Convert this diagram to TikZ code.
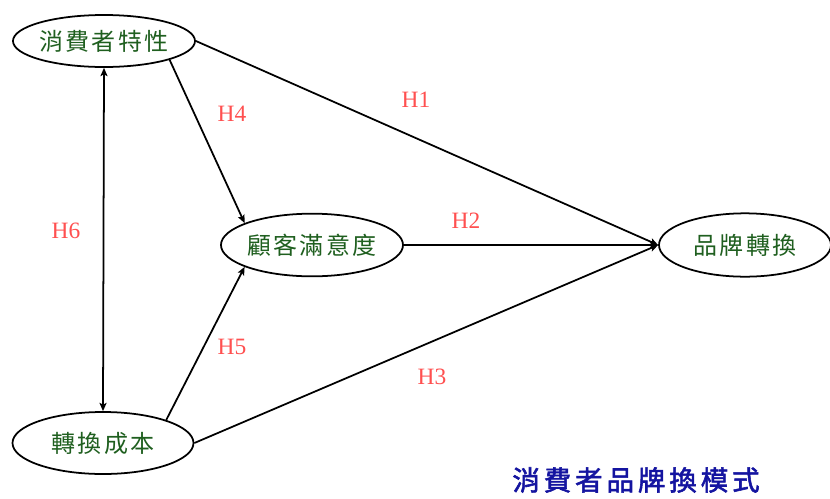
\documentclass[tikz,border=0pt]{standalone}
\usepackage{fontspec}
\setmainfont{Liberation Serif}
\newfontfamily\cjkfont{Noto Sans CJK TC}[LetterSpace=9]
\newfontfamily\titlefont{Noto Sans CJK TC}[LetterSpace=14,FakeBold=2]
\usetikzlibrary{shapes.geometric,arrows.meta}
\definecolor{nodegreen}{HTML}{1F5F1F}
\definecolor{hypred}{HTML}{FF5050}
\definecolor{titleblue}{HTML}{1414A0}
\tikzset{
  factor/.style = {ellipse, draw, line width=1.5pt, inner sep=0pt,
    minimum width=5.46cm, text=nodegreen,
    font=\cjkfont\fontsize{20.5}{20.5}\selectfont},
  link/.style = {-{Stealth[length=7pt,width=6pt,inset=1.5pt]}, line width=1.5pt},
  twolink/.style = {{Stealth[length=7pt,width=6pt,inset=1.5pt]}-{Stealth[length=7pt,width=6pt,inset=1.5pt]}, line width=1.5pt},
  hyp/.style = {text=hypred, font=\fontsize{20}{20}\selectfont}
         }

\begin{document}
\begin{tikzpicture}[x=0.03cm,y=-0.03cm]
    \useasboundingbox (0,0) rectangle (830,499);
    % The four factors
    \node[factor,minimum height=1.56cm] (consumer) at (104,41) {消費者特性};
    \node[factor,minimum height=1.88cm,minimum width=5.37cm] (satisfy) at (312,245) {顧客滿意度};
    \node[factor,minimum height=1.9cm,minimum width=5.16cm] (switch) at (745,245) {品牌轉換};
    \node[factor,minimum height=1.86cm,minimum width=5.43cm] (cost) at (103,443) {轉換成本};
    % Paths into brand switching
    \draw[link] (consumer.east) -- (switch.west);
    \draw[link] (satisfy.east) -- (switch.west);
    \draw[link] (cost.east) -- (switch.west);
    % Paths into satisfaction
    \draw[link] (consumer.-16) -- (satisfy.162);
    \draw[link] (cost.20) -- (satisfy.198);
    % Two way path on the left
    \draw[twolink] (consumer.south) -- (cost.north);
    % Hypothesis labels
    \node[hyp] (h1) at (416,100) {H1};
    \node[hyp] (h2) at (466,221) {H2};
    \node[hyp] (h3) at (432,377) {H3};
    \node[hyp] (h4) at (232,114) {H4};
    \node[hyp] (h5) at (232,347) {H5};
    \node[hyp] (h6) at (66,231) {H6};
    % Title
    \node[text=titleblue,font=\titlefont\fontsize{23.5}{23.5}\selectfont] (title) at (636,480) {消費者品牌換模式};
\end{tikzpicture}
\end{document}
